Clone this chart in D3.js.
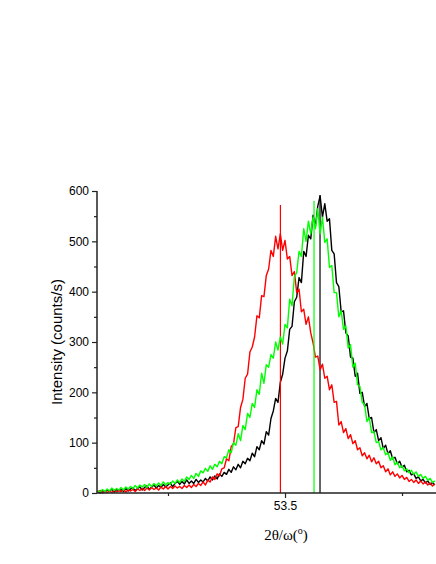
<!DOCTYPE html>
<html><head><meta charset="utf-8">
<script src="https://cdn.jsdelivr.net/npm/d3@7/dist/d3.min.js"></script>
<style>html,body{margin:0;padding:0;background:#fff;}svg{display:block;}</style>
</head><body>
<script>
// scan grid (degrees 2θ/ω)
const scanStart = 53.10;
const scanStep = 0.005;

const blackCounts = [3,0,5,2,6, 3,8,2,7,4, 7,3,9,4,8, 10,5,9,12,6, 11,14,7,12,16, 10,15,11,17,12,
 16,20,12,19,23, 17,23,18,26,19, 24,19,27,21,26, 22,29,24,32,26, 34,28,38,33,41, 37,47,41,52,46,
 57,50,63,58,69, 64,79,72,92,86, 104,97,122,115,148, 163,188,180,220,236, 268,282,325,331,380,
 389,428,418,480,470, 512,505,552,530,570, 590,548,575,540,545, 482,475,418,410,360,
 362,318,312,270,268, 232,238,198,200,172, 178,148,150,120,126, 104,110,88,95,78,
 84,68,71,58,63, 51,55,42,45,36, 38,29,32,24,27, 20,24,17,21,16];

const greenCounts = [5,2,7,3,8, 4,10,5,9,6, 11,6,12,8,13, 9,15,10,16,12, 17,11,18,13,19, 14,20,15,22,16,
 21,17,24,19,26, 21,28,23,32,27, 35,29,39,33,44, 40,49,43,54,47, 57,52,63,58,72, 70,86,80,100,95,
 118,104,134,126,158, 150,178,170,205,196, 238,218,255,250,275, 268,300,284,310,296, 335,328,385,372,430,
 438,480,470,525,500, 540,515,548,525,565, 515,548,498,505,448, 452,398,398,350,362,
 325,332,288,295,250, 258,215,212,180,176, 142,150,120,122,100, 102,86,90,76,80,
 65,72,56,61,50, 54,44,48,40,45, 37,42,33,37,29, 33,25,29,21,24];

const redCounts = [2,5,0,4,1, 4,1,6,2,5, 3,7,2,6,4, 7,3,8,5,9, 5,10,6,11,7, 10,6,12,8,13,
 8,13,9,14,10, 13,9,15,11,16, 11,17,13,19,15, 22,16,26,22,32, 27,38,34,48,50, 68,64,92,98,130,
 132,170,186,228,236, 280,290,310,352,348, 392,390,432,445,482, 470,510,485,515,482, 502,465,470,432,440,
 398,405,360,365,335, 350,318,298,270,272, 245,256,228,232,205, 215,180,182,135,142,
 120,128,108,116,98, 104,86,90,74,80, 68,75,62,70,58, 63,50,54,42,48,
 36,42,33,38,30, 35,27,31,23,27, 21,26,19,24,18, 22,16,20,14,18];

// single-channel spikes (angle, counts)
const spikeAngles = [53.5748, 53.4902, 53.5620];
const spikeCounts = [592, 572, 580];
const seriesColors = ["#000000", "#ff0000", "#00ff00"];

const yTicks = [0,100,200,300,400,500,600];
const yMinorTicks = [50,150,250,350,450,550];
const xTicks = [53.5];
const xMinorTicks = [53.25, 53.75];
const xTickLabels = ["53.5"];

const W = 436, H = 564;
const svg = d3.select("body").append("svg").attr("width", W).attr("height", H);

const x = d3.scaleLinear().domain([53.0983, 53.8226]).range([97, 436]);
const y = d3.scaleLinear().domain([0, 600]).range([493, 191]);

const angles = blackCounts.map((_, i) => scanStart + i * scanStep);
const series = [blackCounts, redCounts, greenCounts];

const line = d3.line().x((d, i) => x(angles[i])).y(d => y(d));

series.forEach((s, k) => {
  svg.append("path").datum(s).attr("d", line)
    .attr("fill", "none").attr("stroke", seriesColors[k])
    .attr("stroke-width", 1.4).attr("stroke-linejoin", "round");
  svg.append("line")
    .attr("x1", x(spikeAngles[k])).attr("x2", x(spikeAngles[k]))
    .attr("y1", y(0)).attr("y2", y(spikeCounts[k]))
    .attr("stroke", seriesColors[k]).attr("stroke-width", 1.2);
});

// axes
const axisColor = "#222";
const font = "Liberation Sans, Arial, sans-serif";
const yAxis = svg.append("g").attr("transform", "translate(97,0)")
  .call(d3.axisLeft(y).tickValues(yTicks).tickSize(5).tickPadding(3));
yAxis.select(".domain").attr("stroke", axisColor).attr("stroke-width", 1.5).attr("d", "M0,191V493");
yAxis.selectAll(".tick line").attr("stroke", axisColor).attr("stroke-width", 1.2);
yAxis.selectAll("text").attr("font-family", font).attr("font-size", 12).attr("fill", "#000");
svg.append("g").attr("transform", "translate(97,0)")
  .call(d3.axisLeft(y).tickValues(yMinorTicks).tickSize(3).tickFormat(""))
  .call(g => { g.select(".domain").remove(); g.selectAll("line").attr("stroke", axisColor).attr("stroke-width", 1.2); });

const xAxis = svg.append("g").attr("transform", "translate(0,493)")
  .call(d3.axisBottom(x).tickValues(xTicks).tickSize(5).tickPadding(3).tickFormat((d, i) => xTickLabels[i]));
xAxis.select(".domain").attr("stroke", axisColor).attr("stroke-width", 1.5).attr("d", "M97,0H436");
xAxis.selectAll(".tick line").attr("stroke", axisColor).attr("stroke-width", 1.2);
xAxis.selectAll("text").attr("font-family", font).attr("font-size", 12).attr("fill", "#000");
svg.append("g").attr("transform", "translate(0,493)")
  .call(d3.axisBottom(x).tickValues(xMinorTicks).tickSize(3).tickFormat(""))
  .call(g => { g.select(".domain").remove(); g.selectAll("line").attr("stroke", axisColor).attr("stroke-width", 1.2); });

// axis titles
svg.append("text").attr("transform", "translate(62,342) rotate(-90)")
  .attr("text-anchor", "middle").attr("font-family", font)
  .attr("font-size", 15).attr("fill", "#000").text("Intensity (counts/s)");

const xt = svg.append("text").attr("x", 286).attr("y", 540).attr("text-anchor", "middle")
  .attr("font-family", "Liberation Serif, Times New Roman, serif").attr("font-size", 15).attr("fill", "#000");
xt.append("tspan").text("2θ/ω(");
xt.append("tspan").attr("font-size", 10).attr("dy", -6).text("o");
xt.append("tspan").attr("dy", 6).text(")");
</script>
</body></html>
